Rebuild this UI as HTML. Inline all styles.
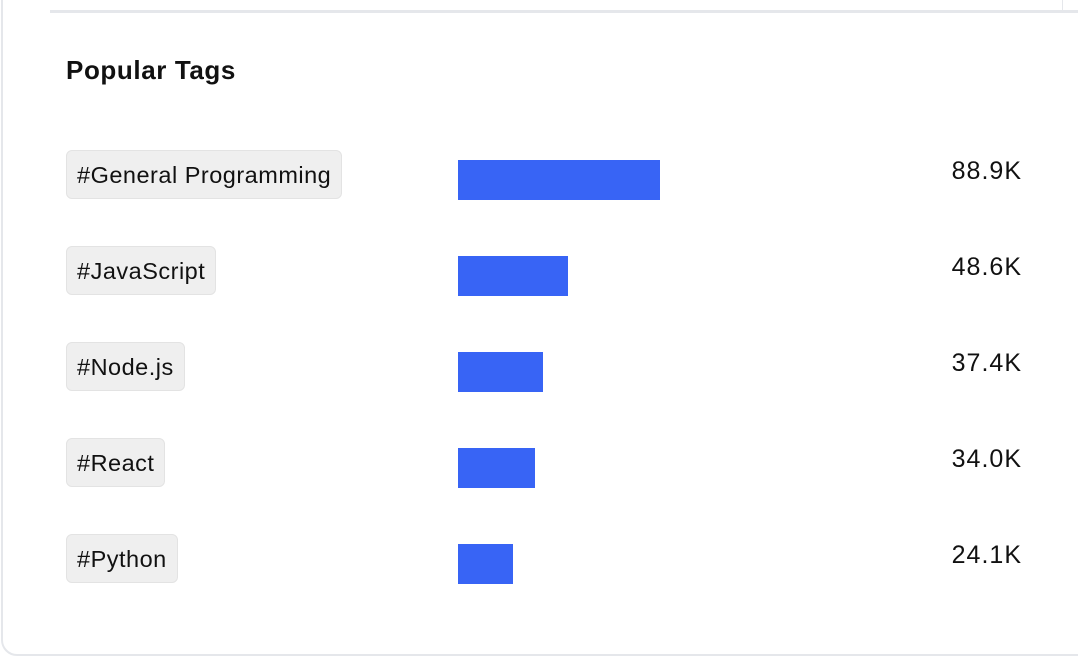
<!DOCTYPE html>
<html><head><meta charset="utf-8"><style>
body{margin:0;width:1078px;height:654px;background:#fff;font-family:"Liberation Sans",sans-serif;position:relative;overflow:hidden}
.card{position:absolute;left:1px;top:-20px;width:1100px;height:676px;border:2px solid #e5e7eb;border-radius:16px;box-sizing:border-box}
.topline{position:absolute;left:50px;top:10px;width:1028px;height:3px;background:#e5e7eb}
.vline{position:absolute;left:1062px;top:0;width:1px;height:10px;background:#e5e7eb}
h2{position:absolute;left:66px;top:55px;margin:0;font-size:26px;letter-spacing:0.6px;font-weight:bold;color:#111}
.tag{position:absolute;left:66px;height:49px;line-height:49px;padding:0 10px;background:#efefef;border:1px solid #e3e3e3;border-radius:6px;font-size:23.5px;letter-spacing:0.5px;color:#111;box-sizing:border-box}
.bar{position:absolute;left:458px;height:40px;background:#3864f5}
.val{position:absolute;right:56px;font-size:25px;letter-spacing:1px;color:#111}
</style></head><body>
<div class="card"></div>
<div class="topline"></div>
<div class="vline"></div>
<h2>Popular Tags</h2>
<div id="rows"></div>
<script>
const tags=["#General Programming","#JavaScript","#Node.js","#React","#Python"];
const values=[88.9,48.6,37.4,34.0,24.1];
const labels=["88.9K","48.6K","37.4K","34.0K","24.1K"];
const x=v=>v*2.27;
const root=document.getElementById('rows');
tags.forEach((t,i)=>{
 const y=150+i*96;
 const tg=document.createElement('div');tg.className='tag';tg.style.top=y+'px';tg.textContent=t;
 
 
 const b=document.createElement('div');b.className='bar';b.style.top=(y+10)+'px';b.style.width=x(values[i])+'px';
 
 
 const v=document.createElement('div');v.className='val';v.style.top=(y+7)+'px';v.textContent=labels[i];
 
 
 root.append(tg,b,v);
});
</script>
</body></html>
